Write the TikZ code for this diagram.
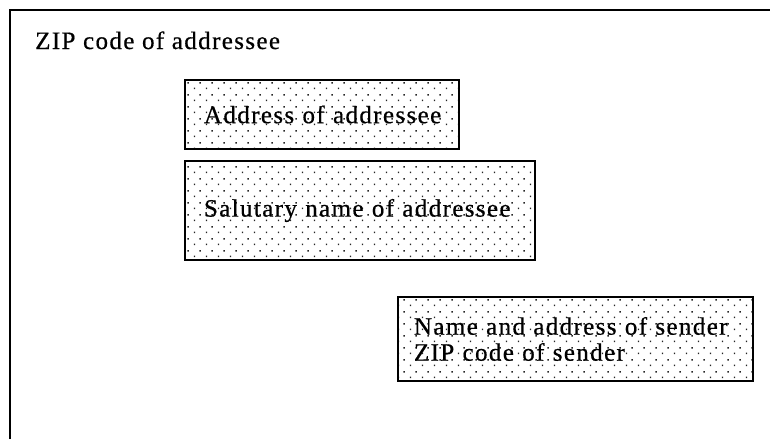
\documentclass[tikz,border=0pt]{standalone}
\usepackage{fontspec}
\setmainfont{Liberation Serif}[LetterSpace=5.5, FakeBold=0.6]
\usetikzlibrary{patterns}
\pgfdeclarepatternformonly{sparsedots}{\pgfpointorigin}{\pgfqpoint{12pt}{12pt}}{\pgfqpoint{12pt}{12pt}}{%
  \pgfpathrectangle{\pgfqpoint{2pt}{2pt}}{\pgfqpoint{1.5pt}{1.5pt}}%
  \pgfpathrectangle{\pgfqpoint{8pt}{8pt}}{\pgfqpoint{1.5pt}{1.5pt}}%
  \pgfusepath{fill}}
\tikzset{
  field/.style={draw=black, line width=1.5pt, rectangle, pattern=sparsedots, pattern color=black!85,
    align=left, inner ysep=0pt, font=\fontsize{25pt}{26pt}\selectfont},
  plain/.style={font=\fontsize{25pt}{26pt}\selectfont, inner sep=0pt}
}
\begin{document}
\begin{tikzpicture}[x=1pt,y=-1pt]
\useasboundingbox (0,0) rectangle (770,439);
\draw[line width=1.5pt] (10,439) -- (10,10) -- (770,10);
\node[plain, anchor=base west] (zip) at (35,49) {ZIP code of addressee};
\node[field, minimum width=274pt, minimum height=69pt, text width=236pt, inner xsep=19pt] (addr) at (322,114.5) {\mbox{Address of addressee}};
\node[field, minimum width=350pt, minimum height=99pt, text width=312pt, inner xsep=19pt] (salut) at (360,210.5) {\mbox{Salutary name of addressee}};
\node[field, minimum width=355pt, minimum height=84pt, text width=323pt, inner xsep=16pt] (sender) at (575.5,339) {\mbox{Name and address of sender}\\\mbox{ZIP code of sender}};
\end{tikzpicture}
\end{document}
